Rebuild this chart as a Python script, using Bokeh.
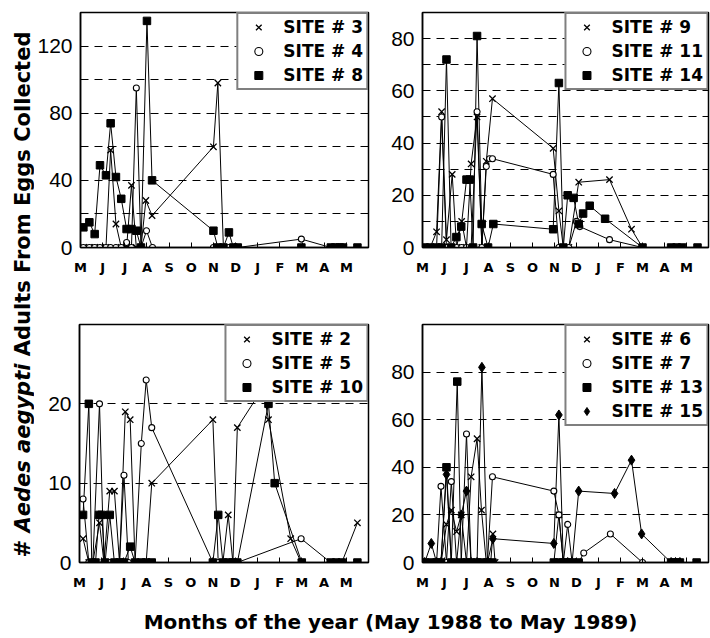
from bokeh.plotting import figure
from bokeh.models import Range1d, FixedTicker, Legend, LegendItem
from bokeh.layouts import row, column
from bokeh.core.properties import value
from bokeh.embed import file_html
from bokeh.resources import INLINE

# ---------------- data ----------------
months = ["M", "J", "J", "A", "S", "O", "N", "D", "J", "F", "M", "A", "M"]
# x values are months since 1 May 1988

site3_m = [0.13, 0.4, 0.64, 0.88, 1.15, 1.36, 1.6, 1.84, 2.08, 2.3, 2.52, 2.73, 2.95, 3.23, 6.0, 6.2, 6.45, 6.7, 6.9, 7.1]
site3_v = [0, 0, 0, 0, 0, 58, 14, 0, 0, 37, 0, 0, 28, 19, 60, 98, 0, 0, 0, 0]
site4_m = [0.13, 0.4, 0.64, 0.88, 1.15, 1.36, 1.6, 1.84, 2.08, 2.3, 2.52, 2.73, 2.98, 3.25, 6.0, 6.2, 6.45, 6.7, 6.9, 7.1, 9.97, 11.3, 11.5, 11.7, 11.85]
site4_v = [0, 0, 0, 0, 0, 0, 0, 0, 3, 0, 95, 0, 10, 0, 0, 0, 0, 0, 0, 0, 5, 0, 0, 0, 0]
site8_m = [0.13, 0.4, 0.64, 0.88, 1.15, 1.36, 1.6, 1.84, 2.08, 2.3, 2.52, 2.73, 3.0, 3.23, 6.0, 6.2, 6.45, 6.7, 6.9, 7.1, 9.97, 11.3, 11.5, 11.7, 11.85, 12.5]
site8_v = [12, 15, 8, 49, 43, 74, 42, 29, 11, 11, 10, 0, 135, 40, 10, 0, 0, 9, 0, 0, 0, 0, 0, 0, 0, 0]

site9_m = [0.1, 0.35, 0.64, 0.87, 1.09, 1.35, 1.55, 1.78, 2.0, 2.21, 2.48, 2.7, 2.9, 3.18, 5.94, 6.2, 6.4, 6.65, 7.1, 8.5, 9.5, 10.0]
site9_v = [0, 0, 6, 52, 3, 28, 0, 10, 0, 32, 50, 0, 33, 57, 38, 14, 0, 0, 25, 26, 7, 0]
site11_m = [0.1, 0.35, 0.64, 0.87, 1.09, 1.35, 1.55, 1.78, 2.0, 2.21, 2.48, 2.7, 2.9, 3.05, 3.18, 5.94, 6.2, 6.4, 6.65, 7.0, 7.15, 8.5, 10.0]
site11_v = [0, 0, 0, 50, 0, 0, 0, 0, 0, 0, 52, 0, 31, 34, 34, 28, 0, 0, 0, 10, 8, 3, 0]
site14_m = [0.1, 0.35, 0.64, 0.87, 1.09, 1.3, 1.54, 1.76, 2.0, 2.15, 2.3, 2.48, 2.69, 2.98, 3.22, 5.94, 6.2, 6.4, 6.6, 6.87, 7.1, 7.3, 7.6, 8.3, 10.0, 11.3, 11.55, 11.8, 12.5]
site14_v = [0, 0, 0, 0, 72, 0, 4, 8, 26, 26, 0, 81, 9, 0, 9, 7, 63, 0, 20, 19, 9, 13, 16, 11, 0, 0, 0, 0, 0]

site2_m = [0.16, 0.42, 0.6, 0.9, 1.1, 1.36, 1.57, 1.8, 2.06, 2.28, 2.5, 2.78, 3.0, 3.25, 6.0, 6.24, 6.45, 6.69, 6.9, 7.1, 8.25, 8.5, 9.5, 9.97, 11.3, 11.55, 11.8, 12.5]
site2_v = [3, 0, 0, 5, 0, 9, 9, 0, 19, 18, 0, 0, 0, 10, 18, 0, 0, 6, 0, 17, 22, 18, 3, 0, 0, 0, 0, 5]
site5_m = [0.16, 0.42, 0.6, 0.9, 1.1, 1.36, 1.57, 1.8, 2.0, 2.2, 2.5, 2.78, 3.0, 3.25, 6.0, 6.24, 6.45, 6.69, 6.9, 7.1, 9.97, 11.3, 11.55, 11.8]
site5_v = [8, 0, 0, 20, 0, 0, 0, 0, 11, 0, 0, 15, 23, 17, 0, 0, 0, 0, 0, 0, 3, 0, 0, 0]
site10_m = [0.16, 0.42, 0.55, 0.72, 0.88, 1.0, 1.15, 1.36, 1.57, 1.8, 2.0, 2.28, 2.5, 2.78, 3.0, 3.25, 6.0, 6.24, 6.45, 6.69, 6.9, 7.1, 8.5, 8.78, 10.0, 11.3, 11.55, 11.8, 12.5]
site10_v = [6, 20, 0, 0, 6, 6, 0, 6, 0, 0, 0, 2, 0, 0, 0, 0, 0, 6, 0, 0, 0, 0, 20, 10, 0, 0, 0, 0, 0]

site6_m = [0.1, 0.4, 0.64, 0.85, 1.09, 1.31, 1.55, 1.76, 2.0, 2.21, 2.48, 2.68, 2.9, 3.1, 3.2, 3.3, 5.97, 6.2, 6.4, 6.6, 6.8, 7.1]
site6_v = [0, 0, 0, 0, 16, 22, 13, 20, 0, 36, 52, 22, 0, 0, 12, 0, 0, 20, 0, 0, 0, 0]
site7_m = [0.1, 0.4, 0.64, 0.84, 1.09, 1.31, 1.55, 1.76, 2.0, 2.21, 2.48, 2.7, 2.95, 3.18, 5.97, 6.2, 6.4, 6.6, 6.8, 7.1, 7.33, 8.54, 10.0]
site7_v = [0, 0, 0, 32, 0, 34, 0, 0, 54, 0, 0, 0, 0, 36, 30, 20, 0, 16, 0, 0, 4, 12, 0]
site13_m = [0.1, 0.4, 0.64, 0.84, 1.09, 1.31, 1.58, 1.76, 2.0, 2.21, 2.48, 2.7, 2.95, 3.18, 5.97, 6.2, 6.4, 6.6, 6.8, 7.1, 11.3, 11.5, 11.7, 12.46]
site13_v = [0, 0, 0, 0, 40, 0, 76, 0, 0, 0, 0, 0, 0, 0, 0, 0, 0, 0, 0, 0, 0, 0, 0, 0]
site15_m = [0.1, 0.4, 0.64, 0.84, 1.09, 1.31, 1.55, 1.76, 2.0, 2.21, 2.48, 2.7, 2.95, 3.2, 5.97, 6.2, 6.4, 6.6, 6.8, 7.1, 8.73, 9.5, 9.96, 11.3, 11.5, 11.7]
site15_v = [0, 8, 0, 0, 37, 0, 0, 20, 30, 0, 0, 82, 0, 10, 8, 62, 0, 0, 0, 30, 29, 43, 12, 0, 0, 0]

x_title = "Months of the year (May 1988 to May 1989)"
y_title_parts = ["#", "Aedes aegypti", "Adults From Eggs Collected"]

# ---------------- styling ----------------
MARK = {
    "x": dict(marker="x", size=9, line_color="black", line_width=1.3),
    "o": dict(marker="circle", size=6, fill_color="white", line_color="black", line_width=1.1),
    "s": dict(marker="square", size=7.5, fill_color="black", line_color="black"),
    "d": dict(marker="diamond", size=10, fill_color="black", line_color="black"),
}


def panel(width, height, ml, mr, mt, mb, ymax, yticks, yminor, series):
    p = figure(width=width, height=height, x_range=Range1d(0, 13), y_range=Range1d(0, ymax),
               toolbar_location=None, output_backend="svg", title=None,
               min_border_left=ml, min_border_right=mr, min_border_top=mt, min_border_bottom=mb)
    p.outline_line_color = "black"
    p.outline_line_width = 1.5
    p.background_fill_color = "white"
    p.border_fill_color = "white"
    p.xgrid.visible = False
    p.xaxis.ticker = FixedTicker(ticks=list(range(13)), minor_ticks=[])
    p.xaxis.major_label_overrides = {i: m for i, m in enumerate(months)}
    p.xaxis.major_label_text_font = "DejaVu Sans"
    p.xaxis.major_label_text_font_style = "bold"
    p.xaxis.major_label_text_font_size = "13px"
    p.xaxis.major_label_standoff = 12
    p.yaxis.ticker = FixedTicker(ticks=yticks, minor_ticks=yminor)
    p.yaxis.major_label_text_font = "Liberation Sans"
    p.yaxis.major_label_text_font_size = "21px"
    p.yaxis.major_label_standoff = 8
    for ax in (p.xaxis, p.yaxis):
        ax.axis_line_color = "black"
        ax.axis_line_width = 1.5
        ax.major_tick_in = 5
        ax.major_tick_out = 0
        ax.minor_tick_in = 5
        ax.minor_tick_out = 0
        ax.major_tick_line_color = "black"
        ax.minor_tick_line_color = "black"
        ax.major_label_text_color = "black"
    p.ygrid.grid_line_color = "black"
    p.ygrid.grid_line_dash = "8 6"
    p.ygrid.grid_line_width = 1
    p.ygrid.minor_grid_line_color = "black"
    p.ygrid.minor_grid_line_dash = "8 6"
    p.ygrid.minor_grid_line_width = 1

    items = []
    for label, xs, ys, mk in series:
        p.line(xs, ys, line_color="black", line_width=1)
    for label, xs, ys, mk in series:
        r = p.scatter(xs, ys, **MARK[mk])
        items.append(LegendItem(label=label, renderers=[r]))
    leg = Legend(items=items, location="top_right", margin=0, padding=3, spacing=4,
                 glyph_width=34, glyph_height=20, label_height=20, label_standoff=8,
                 border_line_color="black", border_line_width=2,
                 background_fill_color="white", background_fill_alpha=1.0,
                 label_text_font="DejaVu Sans", label_text_font_style="bold",
                 label_text_font_size="17px", label_text_color="black")
    p.add_layout(leg)
    return p


TOP_H, BOT_H = 284, 310
W_LAB, W_L, W_R = 34, 336, 340

tl = panel(W_L, TOP_H, 45, 2, 12, 36, 140, [0, 40, 80, 120], [20, 60, 100],
           [("SITE # 3", site3_m, site3_v, "x"), ("SITE # 4", site4_m, site4_v, "o"),
            ("SITE # 8", site8_m, site8_v, "s")])
tr = panel(W_R, TOP_H, 52, 2, 12, 37, 90, [0, 20, 40, 60, 80], [10, 30, 50, 70],
           [("SITE # 9", site9_m, site9_v, "x"), ("SITE # 11", site11_m, site11_v, "o"),
            ("SITE # 14", site14_m, site14_v, "s")])
bl = panel(W_L, BOT_H, 45, 2, 40, 32, 30, [0, 10, 20], [],
           [("SITE # 2", site2_m, site2_v, "x"), ("SITE # 5", site5_m, site5_v, "o"),
            ("SITE # 10", site10_m, site10_v, "s")])
br = panel(W_R, BOT_H, 52, 2, 39, 32, 100, [0, 20, 40, 60, 80], [],
           [("SITE # 6", site6_m, site6_v, "x"), ("SITE # 7", site7_m, site7_v, "o"),
            ("SITE # 13", site13_m, site13_v, "s"), ("SITE # 15", site15_m, site15_v, "d")])

# ---- y title (rotated, with italic species name) ----
LAB_H = TOP_H + BOT_H
ylab = figure(width=W_LAB, height=LAB_H, x_range=Range1d(0, W_LAB), y_range=Range1d(0, LAB_H),
              toolbar_location=None, output_backend="svg", title=None,
              x_axis_type=None, y_axis_type=None,
              min_border_left=0, min_border_right=0, min_border_top=0, min_border_bottom=0)
ylab.outline_line_color = None
ylab.grid.visible = False
FS = 21
SP = 0.348                      # space advance (em), DejaVu Sans Bold
em_w = [0.838, 8.047]           # advances (em) of "#" and "Aedes aegypti"
y0 = 37
starts = [y0, y0 + (em_w[0] + SP) * FS, y0 + (em_w[0] + SP + em_w[1] + SP) * FS]
styles = ["bold", "bold italic", "bold"]
for txt, ys, st in zip(y_title_parts, starts, styles):
    ylab.text(x=[22], y=[ys], text=[txt], angle=1.5707963, text_align="left",
              text_baseline="middle", text_font=value("DejaVu Sans"),
              text_font_style=st, text_font_size=f"{FS}px", text_color="black")

# ---- x title ----
XL_W, XL_H = W_LAB + W_L + W_R, 44
xlab = figure(width=XL_W, height=XL_H, x_range=Range1d(0, XL_W), y_range=Range1d(0, XL_H),
              toolbar_location=None, output_backend="svg", title=None,
              x_axis_type=None, y_axis_type=None,
              min_border_left=0, min_border_right=0, min_border_top=0, min_border_bottom=0)
xlab.outline_line_color = None
xlab.grid.visible = False
xlab.text(x=[390], y=[17], text=[x_title], text_align="center", text_baseline="middle",
          text_font=value("DejaVu Sans"), text_font_style="bold", text_font_size="20px",
          text_color="black")

layout = column(row(ylab, column(row(tl, tr), row(bl, br))), xlab)

open("out.html", "w").write(file_html(layout, INLINE))
